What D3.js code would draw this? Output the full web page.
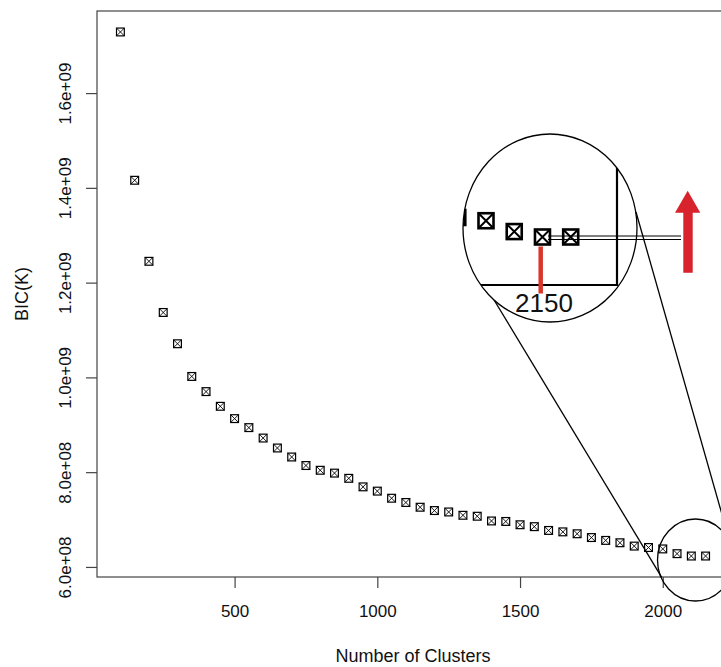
<!DOCTYPE html>
<html>
<head>
<meta charset="utf-8">
<script src="https://cdn.jsdelivr.net/npm/d3@7"></script>
<style>
  body { margin: 0; background: #fff; }
  svg { display: block; font-family: "Liberation Sans", Arial, Helvetica, sans-serif; }
</style>
</head>
<body>
<svg id="chart" width="721" height="667"></svg>
<script>
// Number of clusters K and the BIC score for each model
const clusters = [100, 150, 200, 250, 300, 350, 400, 450, 500, 550,
                  600, 650, 700, 750, 800, 850, 900, 950, 1000, 1050,
                  1100, 1150, 1200, 1250, 1300, 1350, 1400, 1450, 1500, 1550,
                  1600, 1650, 1700, 1750, 1800, 1850, 1900, 1950, 2000, 2050,
                  2100, 2150];
const bic = [1.729e9, 1.416e9, 1.245e9, 1.137e9, 1.071e9, 1.002e9, 9.70e8, 9.39e8, 9.13e8, 8.94e8,
             8.72e8, 8.51e8, 8.32e8, 8.14e8, 8.04e8, 7.98e8, 7.87e8, 7.69e8, 7.60e8, 7.45e8,
             7.36e8, 7.26e8, 7.19e8, 7.16e8, 7.09e8, 7.07e8, 6.97e8, 6.96e8, 6.89e8, 6.85e8,
             6.77e8, 6.74e8, 6.70e8, 6.62e8, 6.56e8, 6.51e8, 6.44e8, 6.41e8, 6.38e8, 6.28e8,
             6.23e8, 6.23e8];

const xTickValues = [500, 1000, 1500, 2000];
const yTickValues = [6e8, 8e8, 1e9, 1.2e9, 1.4e9, 1.6e9];
const yTickLabels = ["6.0e+08", "8.0e+08", "1.0e+09", "1.2e+09", "1.4e+09", "1.6e+09"];
const xTitle = "Number of Clusters";
const yTitle = "BIC(K)";
const zoomLabel = "2150";
const zoomFrom = 1950;   // first K shown in the magnified view

const svg = d3.select("#chart");

// Plot region with 4% padding on both axes
const plot = { left: 97, right: 729, top: 11, bottom: 577 };
const pad = (lo, hi) => { const p = (hi - lo) * 0.04; return [lo - p, hi + p]; };
const x = d3.scaleLinear().domain(pad(d3.min(clusters), d3.max(clusters))).range([plot.left, plot.right]);
const y = d3.scaleLinear().domain(pad(d3.min(bic), d3.max(bic))).range([plot.bottom, plot.top]);

const axisColor = "#444";

// Axes
const gx = svg.append("g").attr("transform", `translate(0,${plot.bottom})`)
  .call(d3.axisBottom(x).tickValues(xTickValues).tickSize(11).tickPadding(0).tickFormat(d3.format("d")));
gx.select(".domain").remove();
gx.selectAll("line").attr("stroke", axisColor).attr("stroke-width", 1.2);
gx.selectAll("text").attr("y", 0).attr("dy", null)
  .attr("transform", "translate(0,39.7)")
  .attr("font-size", 17).attr("fill", "#111")
  .attr("font-family", "Liberation Sans, Arial, sans-serif");

const gy = svg.append("g").attr("transform", `translate(${plot.left},0)`)
  .call(d3.axisLeft(y).tickValues(yTickValues).tickSize(11).tickFormat((d, i) => yTickLabels[i]));
gy.select(".domain").remove();
gy.selectAll("line").attr("stroke", axisColor).attr("stroke-width", 1.2);
gy.selectAll("text")
  .attr("x", null).attr("dy", null).attr("y", null)
  .attr("text-anchor", "middle")
  .attr("transform", `translate(${70.5 - plot.left},0) rotate(-90)`)
  .attr("font-size", 17).attr("fill", "#111")
  .attr("font-family", "Liberation Sans, Arial, sans-serif");

// Frame
svg.append("rect")
  .attr("x", plot.left).attr("y", plot.top)
  .attr("width", plot.right - plot.left).attr("height", plot.bottom - plot.top)
  .attr("fill", "none").attr("stroke", axisColor).attr("stroke-width", 1.2);

// Axis titles
svg.append("text").attr("x", (plot.left + plot.right) / 2).attr("y", 661.5)
  .attr("text-anchor", "middle").attr("font-size", 18).attr("fill", "#111").text(xTitle);
svg.append("text")
  .attr("transform", `translate(28,${(plot.top + plot.bottom) / 2}) rotate(-90)`)
  .attr("text-anchor", "middle").attr("font-size", 18).attr("fill", "#111").text(yTitle);

// Boxed-cross marker
function crossBox(g, s, sw, xw) {
  g.append("rect").attr("x", -s / 2).attr("y", -s / 2).attr("width", s).attr("height", s)
    .attr("fill", "none").attr("stroke", "#000").attr("stroke-width", sw);
  g.append("path")
    .attr("d", `M${-s / 2},${-s / 2}L${s / 2},${s / 2}M${s / 2},${-s / 2}L${-s / 2},${s / 2}`)
    .attr("stroke", "#000").attr("stroke-width", xw).attr("fill", "none");
}

const pts = clusters.map((k, i) => ({ k, v: bic[i] }));

svg.append("g").selectAll("g").data(pts).join("g")
  .attr("transform", d => `translate(${x(d.k)},${y(d.v)})`)
  .each(function () { crossBox(d3.select(this), 7.8, 1.2, 0.9); });

// ---- Magnifier annotation ----
const big = { cx: 550, cy: 228, rx: 87, ry: 94 };
const small = { cx: 695.5, cy: 560, rx: 38, ry: 41 };

// Connector lines
svg.append("line").attr("x1", 485).attr("y1", 285).attr("x2", 661.7).attr("y2", 577.3)
  .attr("stroke", "#000").attr("stroke-width", 1.3);
svg.append("line").attr("x1", 636).attr("y1", 212).attr("x2", 729).attr("y2", 539)
  .attr("stroke", "#000").attr("stroke-width", 1.3);

svg.append("ellipse").attr("cx", small.cx).attr("cy", small.cy).attr("rx", small.rx).attr("ry", small.ry)
  .attr("fill", "none").attr("stroke", "#000").attr("stroke-width", 1.3);

svg.append("defs").append("clipPath").attr("id", "lens")
  .append("ellipse").attr("cx", big.cx).attr("cy", big.cy).attr("rx", big.rx).attr("ry", big.ry);

svg.append("ellipse").attr("cx", big.cx).attr("cy", big.cy).attr("rx", big.rx).attr("ry", big.ry)
  .attr("fill", "#fff").attr("stroke", "none");

// Magnified corner of the plot
const ix = d3.scaleLinear().domain([2000, x.domain()[1]]).range([486, 617]);
const iy = d3.scaleLinear().domain([y.domain()[0], 6.23e8]).range([285, 237]);

const lens = svg.append("g").attr("clip-path", "url(#lens)");
lens.append("line").attr("x1", ix.range()[1]).attr("x2", ix.range()[1])
  .attr("y1", 100).attr("y2", iy(y.domain()[0]))
  .attr("stroke", "#000").attr("stroke-width", 2.2);
lens.append("line").attr("x1", 440).attr("x2", ix.range()[1] + 1.1)
  .attr("y1", iy(y.domain()[0])).attr("y2", iy(y.domain()[0]))
  .attr("stroke", "#000").attr("stroke-width", 2.2);
lens.selectAll("g.m").data(pts.filter(d => d.k >= zoomFrom)).join("g").attr("class", "m")
  .attr("transform", d => `translate(${ix(d.k)},${iy(d.v)})`)
  .each(function () { crossBox(d3.select(this), 15, 2.6, 2); });

svg.append("ellipse").attr("cx", big.cx).attr("cy", big.cy).attr("rx", big.rx).attr("ry", big.ry)
  .attr("fill", "none").attr("stroke", "#000").attr("stroke-width", 1.3);

// Marker pointer and guide lines
svg.append("line").attr("x1", 540.7).attr("x2", 540.7).attr("y1", 246.5).attr("y2", 293.5)
  .attr("stroke", "#d9372c").attr("stroke-width", 4.5);
svg.append("line").attr("x1", 548).attr("x2", 681).attr("y1", 236).attr("y2", 236)
  .attr("stroke", "#000").attr("stroke-width", 1.2);
svg.append("line").attr("x1", 548).attr("x2", 681).attr("y1", 239.5).attr("y2", 239.5)
  .attr("stroke", "#000").attr("stroke-width", 1.2);

svg.append("text").attr("x", 544).attr("y", 311.5).attr("text-anchor", "middle")
  .attr("font-size", 26).attr("fill", "#111").text(zoomLabel);

// Upward arrow
svg.append("path")
  .attr("d", "M683.3,272.7L683.3,212.7L675,212.7L687.7,190.7L700.3,212.7L692.7,212.7L692.7,272.7Z")
  .attr("fill", "#d8232c");
</script>
</body>
</html>
